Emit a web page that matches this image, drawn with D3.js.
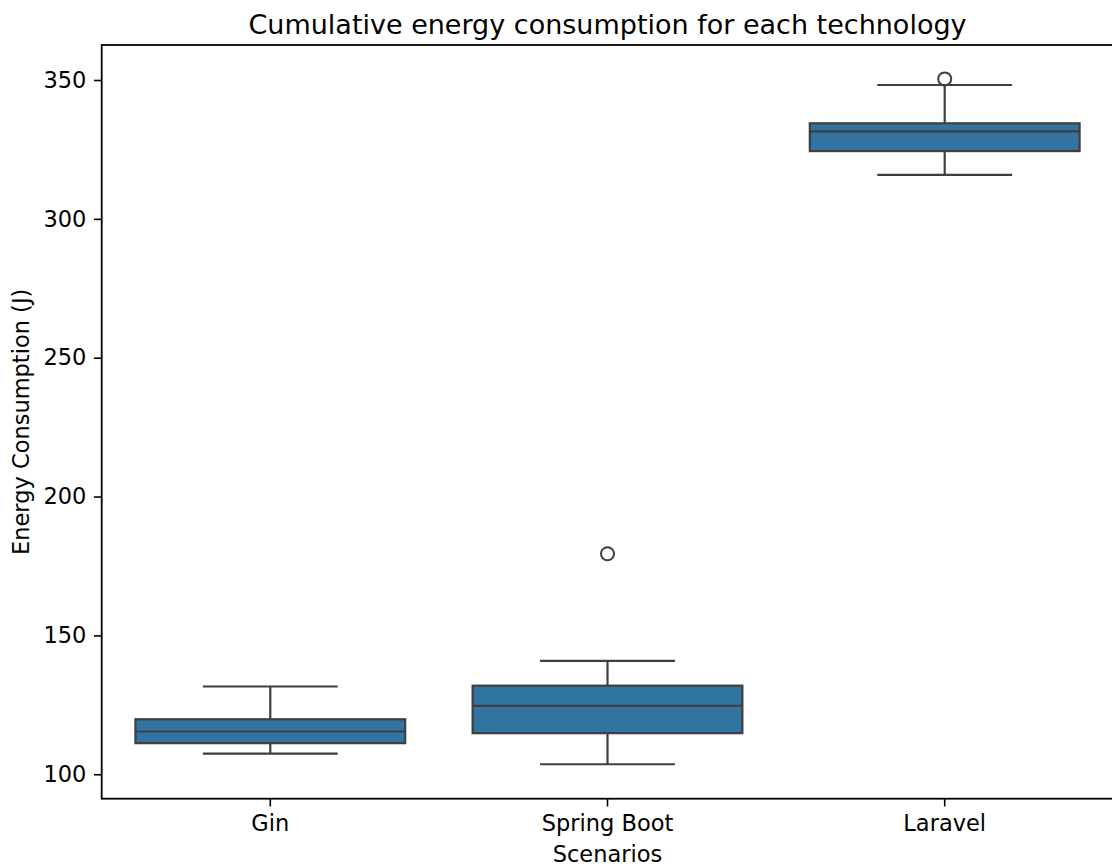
<!DOCTYPE html>
<html>
<head>
<meta charset="utf-8">
<script src="https://cdn.jsdelivr.net/npm/d3@7"></script>
<style>
  body { margin: 0; background: #fff; }
  text { font-family: "DejaVu Sans", sans-serif; fill: #000; }
</style>
</head>
<body>
<svg id="chart"></svg>
<script>
// box statistics
var techs = ["Gin", "Spring Boot", "Laravel"];
var whiskerLow = [107.4, 103.6, 315.8];
var q1 = [111.2, 114.8, 324.4];
var median = [115.4, 124.6, 331.5];
var q3 = [119.8, 131.9, 334.4];
var whiskerHigh = [131.6, 140.8, 348.2];
var outliers = [[], [179.4], [350.4]];
var yTicks = [100, 150, 200, 250, 300, 350];

var screen = {width: 1112, height: 867};
var plot = {left: 101.7, right: 1113.3, top: 45, bottom: 798.7};

var fillC = "#3274a1";
var lineC = "#3f3f3f";

var svg = d3.select("#chart")
  .attr("width", screen.width)
  .attr("height", screen.height);

var x = d3.scaleBand()
  .domain(techs)
  .range([plot.left, plot.right])
  .padding(0);

var y = d3.scaleLinear()
  .domain([91.2, 362.6])
  .range([plot.bottom, plot.top]);

var boxW = x.bandwidth() * 0.8;
var capW = boxW / 2;

var rows = techs.map(function(t, i) {
  return {name: t, lo: whiskerLow[i], q1: q1[i], med: median[i],
          q3: q3[i], hi: whiskerHigh[i], out: outliers[i]};
});

var boxes = svg.append("g").selectAll("g")
  .data(rows)
  .enter()
  .append("g")
  .attr("transform", function(d) {
    return "translate(" + (x(d.name) + x.bandwidth() / 2) + ",0)";
  });

// whiskers
boxes.append("line")
  .attr("x1", 0).attr("x2", 0)
  .attr("y1", function(d) { return y(d.hi); })
  .attr("y2", function(d) { return y(d.q3); })
  .attr("stroke", lineC).attr("stroke-width", 2.2);
boxes.append("line")
  .attr("x1", 0).attr("x2", 0)
  .attr("y1", function(d) { return y(d.q1); })
  .attr("y2", function(d) { return y(d.lo); })
  .attr("stroke", lineC).attr("stroke-width", 2.2);

// caps
boxes.append("line")
  .attr("x1", -capW / 2).attr("x2", capW / 2)
  .attr("y1", function(d) { return y(d.hi); })
  .attr("y2", function(d) { return y(d.hi); })
  .attr("stroke", lineC).attr("stroke-width", 2.2);
boxes.append("line")
  .attr("x1", -capW / 2).attr("x2", capW / 2)
  .attr("y1", function(d) { return y(d.lo); })
  .attr("y2", function(d) { return y(d.lo); })
  .attr("stroke", lineC).attr("stroke-width", 2.2);

// box
boxes.append("rect")
  .attr("x", -boxW / 2)
  .attr("width", boxW)
  .attr("y", function(d) { return y(d.q3); })
  .attr("height", function(d) { return y(d.q1) - y(d.q3); })
  .attr("fill", fillC)
  .attr("stroke", lineC).attr("stroke-width", 2.2);

// median
boxes.append("line")
  .attr("x1", -boxW / 2).attr("x2", boxW / 2)
  .attr("y1", function(d) { return y(d.med); })
  .attr("y2", function(d) { return y(d.med); })
  .attr("stroke", lineC).attr("stroke-width", 2.2);

// fliers
boxes.selectAll("circle")
  .data(function(d) { return d.out; })
  .enter()
  .append("circle")
  .attr("cx", 0)
  .attr("cy", function(v) { return y(v); })
  .attr("r", 6.5)
  .attr("fill", "none")
  .attr("stroke", lineC).attr("stroke-width", 2);

// axes
var yAxis = svg.append("g")
  .attr("transform", "translate(" + plot.left + ",0)")
  .call(d3.axisLeft(y).tickValues(yTicks).tickSize(7.8).tickPadding(7.5));
var xAxis = svg.append("g")
  .attr("transform", "translate(0," + plot.bottom + ")")
  .call(d3.axisBottom(x).tickSize(7.8).tickPadding(9));

[yAxis, xAxis].forEach(function(ax) {
  ax.select(".domain").remove();
  ax.selectAll(".tick line").attr("stroke", "#000").attr("stroke-width", 1.6);
  ax.selectAll(".tick text")
    .attr("fill", "#000")
    .style("font-family", "DejaVu Sans")
    .style("font-size", "22.5px");
});

// spines
svg.append("rect")
  .attr("x", plot.left).attr("y", plot.top)
  .attr("width", plot.right - plot.left)
  .attr("height", plot.bottom - plot.top)
  .attr("fill", "none")
  .attr("stroke", "#000").attr("stroke-width", 1.8);

// title and labels
svg.append("text")
  .attr("x", (plot.left + plot.right) / 2)
  .attr("y", 33.5)
  .attr("text-anchor", "middle")
  .style("font-size", "27px")
  .text("Cumulative energy consumption for each technology");

svg.append("text")
  .attr("x", (plot.left + plot.right) / 2)
  .attr("y", 862)
  .attr("text-anchor", "middle")
  .style("font-size", "22.5px")
  .text("Scenarios");

svg.append("text")
  .attr("transform", "translate(29," + (plot.top + plot.bottom) / 2 + ") rotate(-90)")
  .attr("text-anchor", "middle")
  .style("font-size", "22.5px")
  .text("Energy Consumption (J)");
</script>
</body>
</html>
